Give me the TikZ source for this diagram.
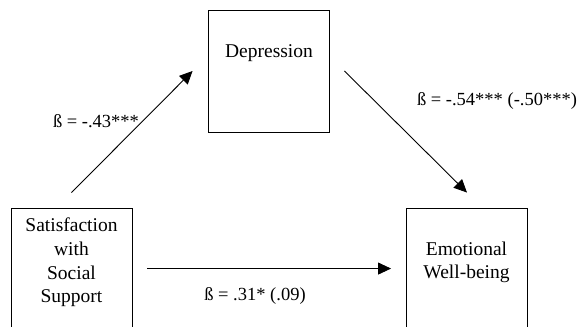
\documentclass[tikz,border=0pt]{standalone}
\usepackage{fontspec}
\setmainfont{Liberation Serif}
\usetikzlibrary{arrows.meta}
\begin{document}
\begin{tikzpicture}[x=1pt,y=-1pt,
  box/.style={draw, line width=0.9pt, minimum width=121pt, inner sep=0pt},
  boxtext/.style={align=center, font=\fontsize{19.5}{23.6}\selectfont, inner sep=0pt},
  lbl/.style={font=\fontsize{18.5}{22}\selectfont, inner sep=0pt},
  arr/.style={line width=0.9pt, -{Triangle[length=13pt,width=12pt]}}]
\useasboundingbox (0,0) rectangle (579,327);
\clip (0,0) rectangle (579,327);
\fill[white] (0,0) rectangle (579,327);
% boxes
\node[box, minimum height=122pt] (dep) at (268.5,71) {};
\node[box, minimum height=150pt] (ss) at (71.5,283) {};
\node[box, minimum height=150pt] (emo) at (467,283) {};
% box texts
\node[boxtext] (deptext) at (269,53) {Depression};
\node[boxtext] (sstext) at (71.5,262.5) {Satisfaction\\with\\Social\\Support};
\node[boxtext] (emotext) at (466.5,262.5) {Emotional\\Well-being};
% connectors
\draw[arr] ([yshift=15pt]ss.north) -- ([xshift=-15pt]dep.west);
\draw[arr] ([xshift=15pt]dep.east) -- ([yshift=15pt]emo.north);
\draw[arr] ([shift={(15pt,-61pt)}]ss.north east) -- ([shift={(-15pt,-61pt)}]emo.north west);
% labels
\node[lbl] (l1) at (96,121) {ß = -.43***};
\node[lbl] (l2) at (497,101) {ß = -.54*** (-.50***)};
\node[lbl] (l3) at (255,296) {ß = .31* (.09)};
\end{tikzpicture}
\end{document}
